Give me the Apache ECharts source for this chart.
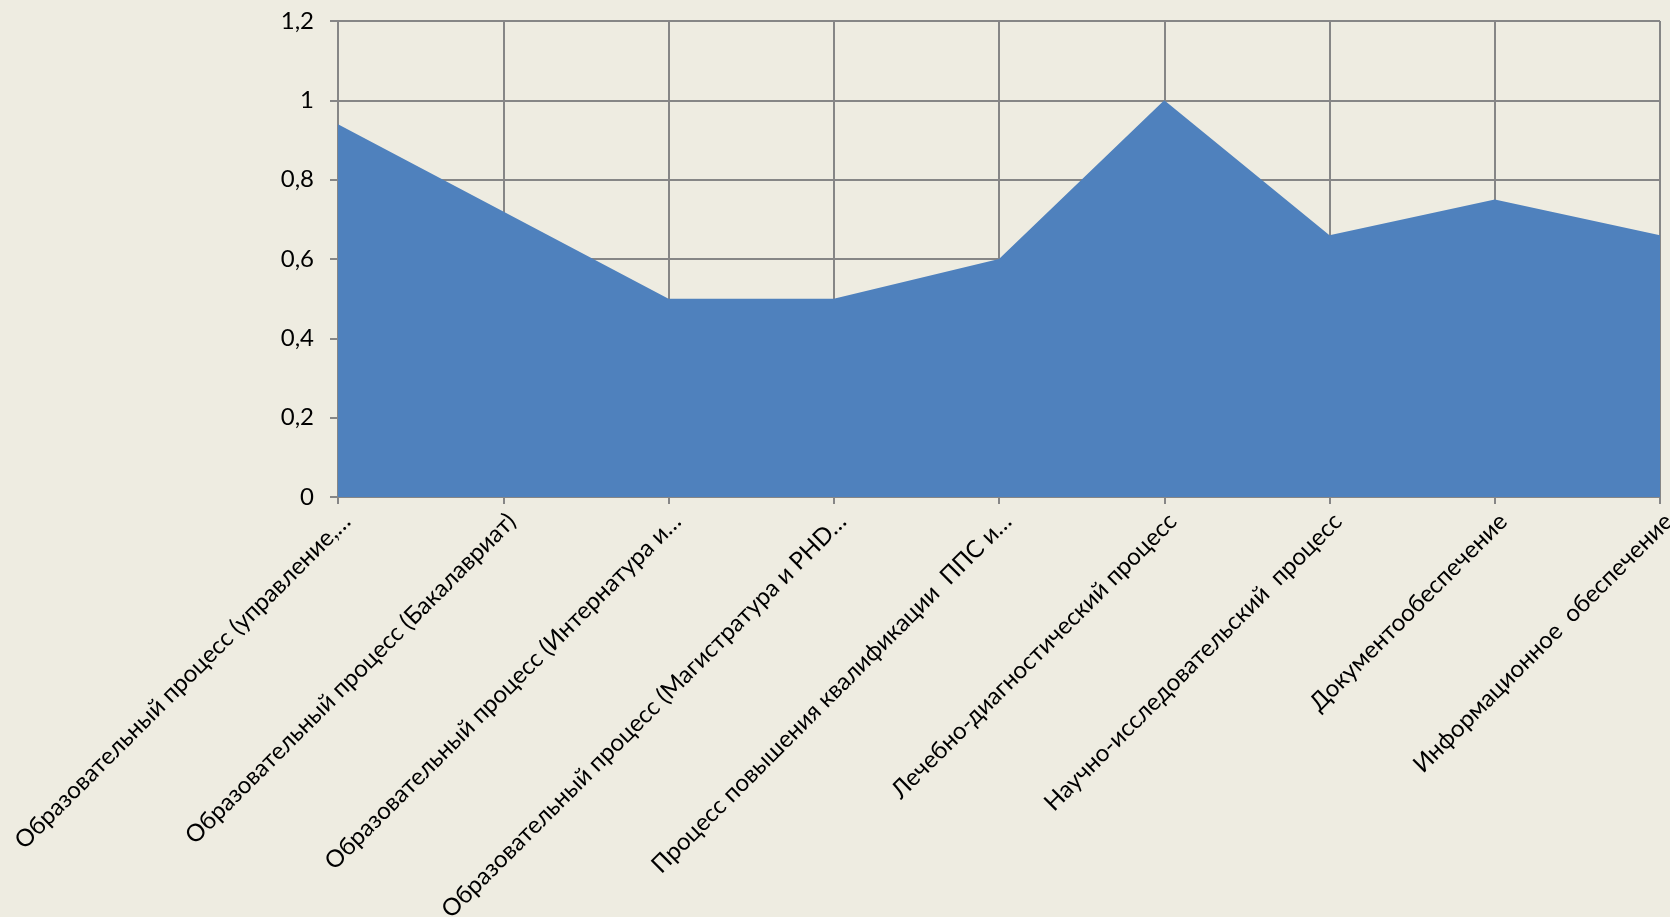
<!DOCTYPE html>
<html>
<head>
<meta charset="utf-8">
<script src="https://cdn.jsdelivr.net/npm/echarts@6/dist/echarts.min.js"></script>
<style>
html,body{margin:0;padding:0;background:#EEECE1;}
#c{width:1670px;height:917px;}
</style>
</head>
<body>
<div id="c"></div>
<script>
const categories = [
  "Образовательный процесс (управление,…",
  "Образовательный процесс (Бакалавриат)",
  "Образовательный процесс (Интернатура и…",
  "Образовательный процесс (Магистратура и PHD…",
  "Процесс повышения квалификации  ППС и…",
  "Лечебно-диагностический процесс",
  "Научно-исследовательский  процесс",
  "Документообеспечение",
  "Информационное  обеспечение"
];
const values = [0.94, 0.72, 0.5, 0.5, 0.6, 1.0, 0.66, 0.75, 0.66];
const yTicks = {min: 0, max: 1.2, interval: 0.2};

const chart = echarts.init(document.getElementById('c'), null, {renderer: 'canvas'});
const font = 'Lato';
chart.setOption({
  backgroundColor: '#EEECE1',
  animation: false,
  grid: {left: 338, right: 10, top: 21, bottom: 420, containLabel: false, outerBoundsMode: 'none'},
  xAxis: {
    type: 'category',
    data: categories,
    boundaryGap: false,
    axisLine: {show: true, lineStyle: {color: '#868686', width: 2}},
    axisTick: {show: true, alignWithLabel: true, length: 7, lineStyle: {color: '#868686', width: 2}},
    splitLine: {show: true, lineStyle: {color: '#868686', width: 2}},
    axisLabel: {
      interval: 0, rotate: 45, margin: 12, verticalAlign: 'top',
      color: '#000', fontFamily: font, fontSize: 24
    }
  },
  yAxis: {
    type: 'value',
    min: yTicks.min, max: yTicks.max, interval: yTicks.interval,
    axisLine: {show: true, lineStyle: {color: '#868686', width: 2}},
    axisTick: {show: true, length: 8, lineStyle: {color: '#868686', width: 2}},
    splitLine: {show: true, lineStyle: {color: '#868686', width: 2}},
    axisLabel: {
      margin: 24, color: '#000', fontFamily: font, fontSize: 24,
      formatter: v => String(Math.round(v * 10) / 10).replace('.', ',')
    }
  },
  series: [{
    type: 'line',
    data: values,
    symbol: 'none',
    lineStyle: {width: 0, color: '#4F81BD'},
    areaStyle: {color: '#4F81BD', opacity: 1},
    z: 3
  }]
});
</script>
</body>
</html>
